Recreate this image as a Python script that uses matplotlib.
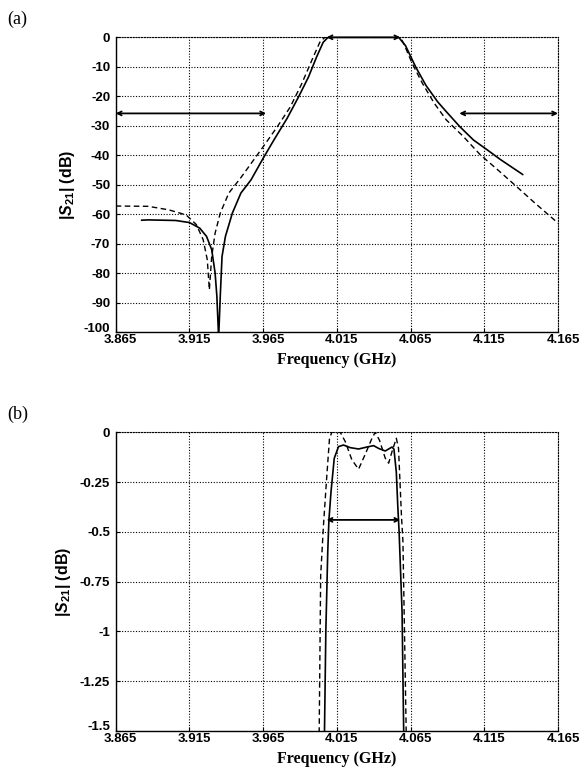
import numpy as np
import matplotlib
matplotlib.use('Agg')
import matplotlib.pyplot as plt
import matplotlib.transforms as mtransforms

# ---- data ----
# (a) wide band response, |S21| in dB
freq_sol_a = [3.8826, 3.8871, 3.9057, 3.915, 3.922, 3.9266, 3.9301, 3.9324,
              3.9336, 3.9348, 3.9359, 3.9371, 3.9394, 3.9441, 3.9499, 3.9568,
              3.965, 3.9723, 3.9812, 3.989, 3.9957, 4.0012, 4.0057, 4.009,
              4.0569, 4.0615, 4.0685, 4.0754, 4.0834, 4.0892, 4.0984, 4.1076,
              4.1168, 4.1261, 4.141]
s21_sol_a = [-62.0, -61.9, -62.1, -62.8, -64.7, -67.5, -72.0, -79.9,
             -87.8, -102.0, -87.8, -74.3, -67.5, -59.6, -52.8, -48.3,
             -41.0, -34.8, -27.5, -20.2, -13.5, -6.7, -1.7, 0.0,
             0.0, -2.8, -10.1, -16.3, -21.9, -25.2, -30.3, -34.8,
             -38.1, -41.5, -46.5]

freq_dash_a = [3.865, 3.8871, 3.901, 3.9127, 3.9197, 3.9243, 3.9271, 3.9285,
               3.9301, 3.9324, 3.9359, 3.9417, 3.950, 3.965, 3.9746, 3.9834,
               3.9912, 3.9979, 4.0034, 4.0068, 4.058, 4.0604, 4.0662, 4.0731,
               4.0811, 4.0892, 4.1007, 4.1122, 4.1238, 4.1353, 4.1491, 4.165]
s21_dash_a = [-57.2, -57.3, -58.5, -60.2, -63.5, -68.6, -75.4, -85.6,
              -74.3, -66.4, -59.6, -52.8, -47.5, -37.1, -30.3, -23.6,
              -15.7, -7.9, -1.7, 0.0, 0.0, -2.2, -9.0, -15.7,
              -22.4, -28.0, -33.6, -39.8, -44.8, -49.9, -56.1, -63.0]

# (b) passband detail
freq_sol_b = [4.0063, 4.0066, 4.0075, 4.0088, 4.0096, 4.011, 4.0132, 4.0161,
              4.0195, 4.024, 4.0297, 4.0354, 4.0399, 4.0433, 4.0478, 4.0524,
              4.0537, 4.0553, 4.0563, 4.0572, 4.0592, 4.0603, 4.0605]
s21_sol_b = [-1.6, -1.5, -1.0, -0.6, -0.44, -0.3, -0.131, -0.072,
             -0.064, -0.077, -0.084, -0.074, -0.067, -0.081, -0.094, -0.074,
             -0.085, -0.2, -0.37, -0.5, -0.9, -1.5, -1.6]

freq_dash_b = [4.0028, 4.003, 4.004, 4.0059, 4.0082, 4.010, 4.0116, 4.0145,
               4.0173, 4.0207, 4.0252, 4.0297, 4.0342, 4.0388, 4.041, 4.0439,
               4.0478, 4.0501, 4.0524, 4.0553, 4.0568, 4.0578, 4.0588, 4.0598,
               4.062, 4.0622]
s21_dash_b = [-1.6, -1.5, -0.72, -0.467, -0.215, -0.03, 0.0, 0.005,
              0.0, -0.047, -0.139, -0.185, -0.111, -0.03, 0.0, -0.04,
              -0.13, -0.155, -0.097, -0.03, -0.08, -0.25, -0.42, -0.55,
              -1.5, -1.6]

# specification masks
pass_band = (4.008, 4.058)
stop_lo = (3.865, 3.967)
stop_hi = (4.098, 4.165)
stop_level = -25.8
pass_level_b = -0.44

xticks = [3.865, 3.915, 3.965, 4.015, 4.065, 4.115, 4.165]
yticks_a = [0, -10, -20, -30, -40, -50, -60, -70, -80, -90, -100]
yticks_b = [0, -0.25, -0.5, -0.75, -1, -1.25, -1.5]
ylabels_b = ['0', '-0.25', '-0.5', '-0.75', '-1', '-1.25', '-1.5']

tickfont = dict(family='Liberation Sans', weight='heavy', size=9.5)
labfont = dict(family='Liberation Serif', weight='bold', size=11.5)


def arrow(ax, x0, x1, y):
    ax.annotate('', xy=(x0, y), xytext=(x1, y),
                arrowprops=dict(arrowstyle='<->', lw=1.3, color='black',
                                mutation_scale=7, shrinkA=0, shrinkB=0),
                annotation_clip=False)


def style(ax, yticks, ylabels, ylim):
    ax.set_xlim(3.865, 4.165)
    ax.set_ylim(*ylim)
    ax.set_xticks(xticks)
    ax.set_xticklabels(['%.3f' % x for x in xticks], fontdict=tickfont)
    ax.set_yticks(yticks)
    ax.set_yticklabels(ylabels, fontdict=tickfont)
    ax.tick_params(direction='in', length=3, width=0.8)
    ax.tick_params(axis='x', pad=1.5)
    ax.tick_params(axis='y', pad=4)
    # x labels sit a little right of their ticks in the original
    shift = mtransforms.ScaledTranslation(5/100., 0, fig.dpi_scale_trans)
    for lab in ax.get_xticklabels():
        lab.set_transform(lab.get_transform() + shift)
    # lowest y label is raised a bit above the corner
    lift = mtransforms.ScaledTranslation(0, 5/100., fig.dpi_scale_trans)
    low = ax.get_yticklabels()[-1]
    low.set_transform(low.get_transform() + lift)
    ax.grid(True, color='black', linestyle=(0, (1, 1.5)), linewidth=0.8)
    for s in ['top', 'right']:
        ax.spines[s].set_linestyle((0, (1, 1.5)))
        ax.spines[s].set_linewidth(0.8)
    for s in ['left', 'bottom']:
        ax.spines[s].set_linewidth(1.0)
    ax.set_xlabel('Frequency (GHz)', fontdict=labfont, labelpad=4)
    ax.set_ylabel(r'$|S_{21}|$ (dB)', fontdict=dict(family='Liberation Sans',
                                                  weight='bold', size=11.5),
                  labelpad=5)


fig = plt.figure(figsize=(5.83, 7.74), dpi=100)
plt.rcParams['mathtext.fontset'] = 'custom'
plt.rcParams['mathtext.it'] = 'Liberation Sans:bold:italic'
plt.rcParams['mathtext.rm'] = 'Liberation Sans:bold'

ax1 = fig.add_axes([0.1985, 0.5707, 0.7587, 0.3811])
ax1.plot(freq_sol_a, s21_sol_a, color='black', lw=1.2)
ax1.plot(freq_dash_a, s21_dash_a, color='black', lw=1.0, dashes=(4, 2.5))
arrow(ax1, stop_lo[0], stop_lo[1], stop_level)
arrow(ax1, stop_hi[0], stop_hi[1], stop_level)
arrow(ax1, pass_band[0], pass_band[1], 0)
style(ax1, yticks_a, [str(v) for v in yticks_a], (-100, 0))

ax2 = fig.add_axes([0.1985, 0.0556, 0.7587, 0.3859])
ax2.plot(freq_sol_b, s21_sol_b, color='black', lw=1.2)
ax2.plot(freq_dash_b, s21_dash_b, color='black', lw=1.0, dashes=(4, 2.5))
arrow(ax2, pass_band[0], pass_band[1], pass_level_b)
style(ax2, yticks_b, ylabels_b, (-1.5, 0))

fig.text(0.012, 0.975, '(a)', family='Liberation Serif', size=13, va='center')
fig.text(0.012, 0.465, '(b)', family='Liberation Serif', size=13, va='center')

fig.savefig('out.png', dpi=100)
